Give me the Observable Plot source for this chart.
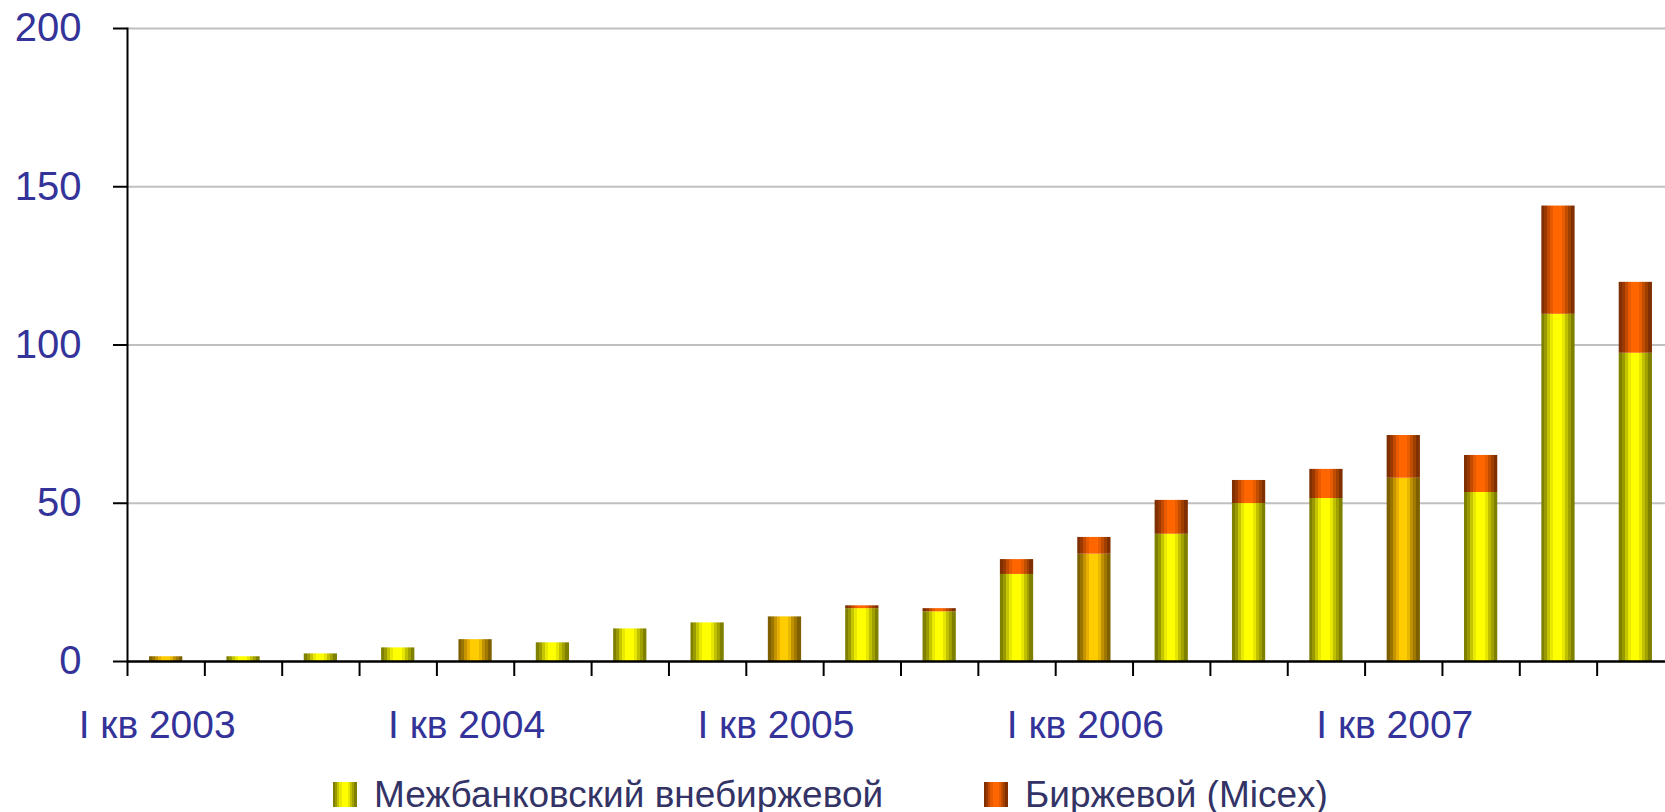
<!DOCTYPE html>
<html>
<head>
<meta charset="utf-8">
<script src="https://cdn.jsdelivr.net/npm/d3@7"></script>
<script src="https://cdn.jsdelivr.net/npm/@observablehq/plot@0.6"></script>
<style>
  html, body { margin: 0; padding: 0; background: #fff; overflow: hidden; }
  #wrap { position: relative; width: 1665px; height: 812px; font-family: "Liberation Sans", Arial, sans-serif; }
  .leg { position: absolute; top: 775px; height: 37px; line-height: 40px; font-size: 37px; color: #333366; white-space: nowrap; }
  .sw { position: absolute; top: 7px; width: 24px; height: 25px; }
  .lt { position: absolute; left: 41px; top: 0; }
</style>
</head>
<body>
<div id="wrap"></div>
<script>
// ---- data ----
const quarters = [
  "I кв 2003", "II кв 2003", "III кв 2003", "IV кв 2003",
  "I кв 2004", "II кв 2004", "III кв 2004", "IV кв 2004",
  "I кв 2005", "II кв 2005", "III кв 2005", "IV кв 2005",
  "I кв 2006", "II кв 2006", "III кв 2006", "IV кв 2006",
  "I кв 2007", "II кв 2007", "III кв 2007", "IV кв 2007"
];
const interbank = [1.5, 1.5, 2.4, 4.3, 6.9, 5.9, 10.3, 12.2, 14.1, 16.7, 15.7, 27.5, 33.9, 40.2, 49.9, 51.5, 57.9, 53.4, 109.7, 97.4];
const exchange  = [0, 0, 0, 0, 0, 0, 0, 0, 0, 0.9, 1.0, 4.7, 5.3, 10.7, 7.3, 9.2, 13.5, 11.7, 34.2, 22.4];
const seriesNames = ["Межбанковский внебиржевой", "Биржевой (Micex)"];
const yTicks = [0, 50, 100, 150, 200];
const xLabelTicks = quarters.filter(q => q.startsWith("I кв"));

// ---- styles (gradients) ----
const gradients = {
  gYellow: [[0, "#808000"], [0.09, "#999900"], [0.18, "#c4c400"], [0.27, "#e8e800"], [0.36, "#ffff00"], [0.62, "#e6e600"], [0.71, "#c0c000"], [0.80, "#a0a000"], [0.89, "#808000"]],
  gGold:   [[0, "#7f6000"], [0.09, "#9a7400"], [0.18, "#c49300"], [0.27, "#e8ae00"], [0.36, "#ffcc00"], [0.62, "#e6b800"], [0.71, "#c09000"], [0.80, "#a07800"], [0.89, "#7f6000"]],
  gOrange: [[0, "#7f2f00"], [0.09, "#993800"], [0.18, "#c44a00"], [0.27, "#e85a00"], [0.36, "#ff6600"], [0.62, "#e65c00"], [0.71, "#c04d00"], [0.80, "#a04000"], [0.89, "#7f2f00"]]
};

const rows = [
  ...quarters.map((q, i) => ({q, s: seriesNames[0], v: interbank[i], g: q.startsWith("I кв") ? "url(#gGold)" : "url(#gYellow)"})),
  ...quarters.map((q, i) => ({q, s: seriesNames[1], v: exchange[i], g: "url(#gOrange)"}))
];

const W = 1665, H = 768;
const xRange = [127, 1674];
const step = (xRange[1] - xRange[0]) / quarters.length;
const font = '"Liberation Sans", Arial, sans-serif';

const chart = Plot.plot({
  width: W, height: H,
  marginTop: 28, marginBottom: 107, marginLeft: 127, marginRight: 0,
  style: {fontFamily: font, background: "white", overflow: "hidden"},
  x: {domain: quarters, range: xRange, paddingInner: 0.57, paddingOuter: 0.285, round: false, axis: null},
  y: {domain: [0, 200], axis: null},
  color: {type: "identity"},
  marks: [
    Plot.ruleY(yTicks.filter(t => t > 0), {stroke: "#c0c0c0", strokeWidth: 2}),
    Plot.barY(rows, {x: "q", y: "v", z: "s", fill: "g"}),
    Plot.ruleY([0], {stroke: "black", strokeWidth: 2.5}),
    Plot.frame({anchor: "left", stroke: "black", strokeWidth: 2}),
    Plot.axisY({ticks: yTicks, tickSize: 14, text: null, stroke: "black", strokeWidth: 2, label: null}),
    Plot.axisY({ticks: yTicks, tickSize: 0, tickPadding: 46, fontSize: 40, fill: "#333399", label: null}),
    Plot.axisX({tickSize: 15, text: null, dx: -step / 2, stroke: "black", strokeWidth: 2, label: null}),
    Plot.axisX({ticks: xLabelTicks, tickSize: 0, tickPadding: 49, fontSize: 39, fill: "#333399", dx: -9, label: null})
  ]
});

// gradient defs
const defs = d3.select(chart).insert("defs", ":first-child");
for (const [id, stops] of Object.entries(gradients)) {
  const lg = defs.append("linearGradient").attr("id", id).attr("x1", 0).attr("x2", 1).attr("y1", 0).attr("y2", 0);
  stops.forEach(([o, c], i) => {
    const next = i + 1 < stops.length ? stops[i + 1][0] : 1;
    lg.append("stop").attr("offset", o).attr("stop-color", c);
    lg.append("stop").attr("offset", next).attr("stop-color", c);
  });
}

const wrap = document.getElementById("wrap");
wrap.appendChild(chart);

// legend
function cssGrad(stops) {
  const parts = [];
  stops.forEach(([o, c], i) => {
    const next = i + 1 < stops.length ? stops[i + 1][0] : 1;
    parts.push(`${c} ${o * 100}%`, `${c} ${next * 100}%`);
  });
  return `linear-gradient(to right, ${parts.join(", ")})`;
}
const legendItems = [
  {name: seriesNames[0], grad: gradients.gYellow, left: 333},
  {name: seriesNames[1], grad: gradients.gOrange, left: 984}
];
for (const it of legendItems) {
  const d = document.createElement("div");
  d.className = "leg";
  d.style.left = it.left + "px";
  const sw = document.createElement("div");
  sw.className = "sw";
  sw.style.background = cssGrad(it.grad);
  const t = document.createElement("span");
  t.className = "lt";
  t.textContent = it.name;
  d.appendChild(sw); d.appendChild(t);
  wrap.appendChild(d);
}
</script>
</body>
</html>
